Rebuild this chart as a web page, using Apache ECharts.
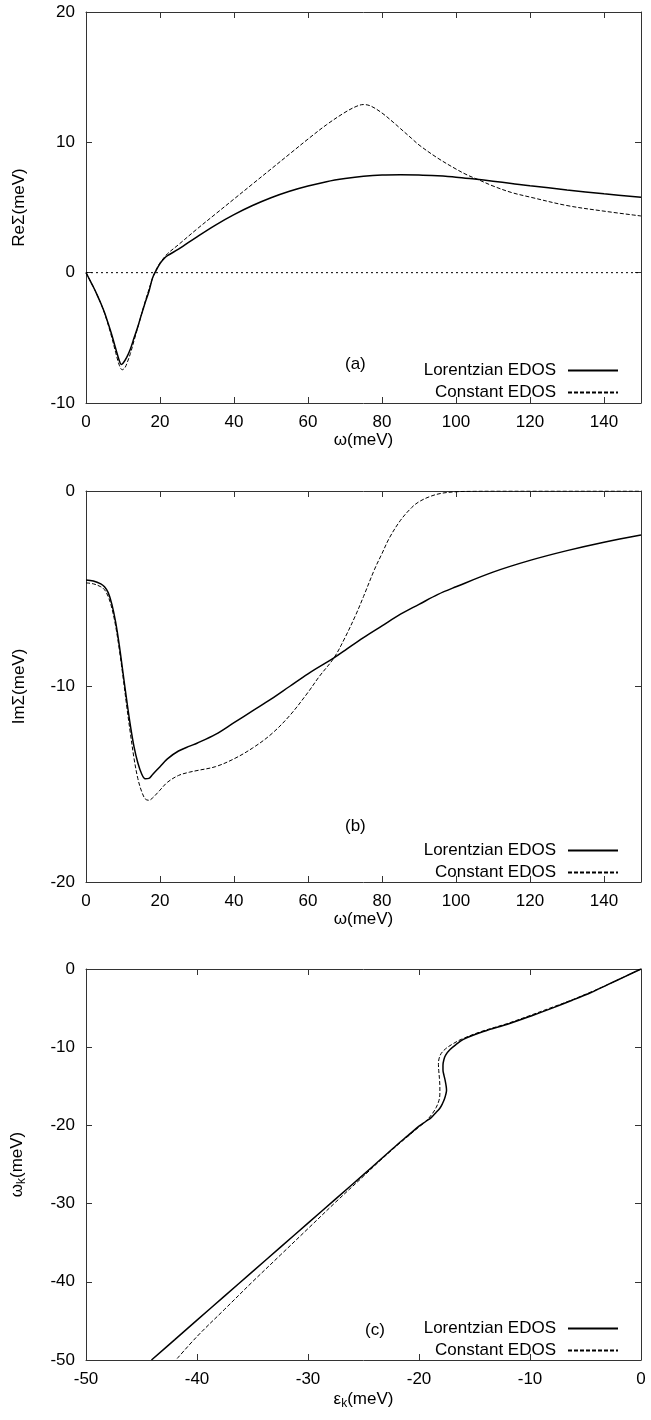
<!DOCTYPE html>
<html><head><meta charset="utf-8">
<script src="https://cdn.jsdelivr.net/npm/echarts@6/dist/echarts.min.js"></script>
<style>html,body{margin:0;padding:0;background:#fff}#c{width:651px;height:1420px}</style>
</head><body><div id="c"></div>
<script>
// ---- Panel (a): Re Sigma ----
const omegaReLor = [0,1,2,3,4,5,6,7,8,9,9.5,10,11,12,13,14,15,16,17,18,19,20,21,22,25,30,35,40,45,50,55,60,65,70,75,80,85,90,95,100,105,110,115,120,130,140,150];
const reLor = [0,-0.55,-1.1,-1.7,-2.35,-3.05,-3.9,-4.8,-5.8,-6.75,-7.04,-6.95,-6.5,-5.85,-5.0,-4.15,-3.2,-2.3,-1.45,-0.4,0.2,0.7,1.05,1.3,1.8,2.75,3.65,4.45,5.15,5.75,6.25,6.65,6.98,7.22,7.4,7.5,7.52,7.5,7.43,7.33,7.18,7.02,6.85,6.67,6.35,6.05,5.78];
const omegaReConst = [0,1,2,3,4,5,6,7,8,9,9.8,10.5,11,12,13,14,15,16,17,18,19,20,21,22,25,30,35,40,45,50,55,60,65,70,73,75,77,80,83,85,88,90,95,100,103,106,110,115,120,130,140,150];
const reConst = [0,-0.55,-1.1,-1.7,-2.35,-3.1,-4.0,-5.0,-6.1,-7.1,-7.45,-7.3,-7.0,-6.2,-5.2,-4.2,-3.2,-2.2,-1.3,-0.4,0.25,0.75,1.12,1.45,2.15,3.35,4.5,5.65,6.8,7.95,9.1,10.25,11.35,12.3,12.75,12.9,12.78,12.25,11.55,11.05,10.3,9.8,8.8,7.95,7.5,7.14,6.65,6.15,5.8,5.15,4.72,4.35];
const zeroLineX = [0,150];
const zeroLineY = [0,0];

// ---- Panel (b): Im Sigma ----
const omegaImLor = [0,2,4,5,6,7,8,9,10,11,12,13,14,15,16,17,18,20,22,25,28,30,35,40,45,50,55,60,67,70,75,80,85,90,95,100,110,120,130,140,150];
const imLor = [-4.55,-4.6,-4.75,-4.9,-5.2,-5.8,-6.7,-7.9,-9.3,-10.7,-12.0,-13.1,-13.9,-14.45,-14.72,-14.7,-14.5,-14.1,-13.7,-13.3,-13.05,-12.9,-12.45,-11.85,-11.25,-10.65,-10.0,-9.35,-8.54,-8.15,-7.5,-6.9,-6.3,-5.8,-5.3,-4.9,-4.15,-3.55,-3.05,-2.62,-2.25];
const omegaImConst = [0,2,4,5,6,7,8,9,10,11,12,13,14,15,16,17,18,20,22,25,28,30,35,40,45,50,55,60,63,67,70,73,75,78,80,82,85,88,90,93,96,100,105,110,150];
const imConst = [-4.7,-4.75,-4.9,-5.05,-5.4,-6.0,-6.9,-8.1,-9.5,-11.0,-12.4,-13.7,-14.7,-15.35,-15.75,-15.82,-15.7,-15.3,-14.9,-14.55,-14.38,-14.3,-14.1,-13.7,-13.15,-12.45,-11.5,-10.3,-9.5,-8.54,-7.5,-6.3,-5.4,-4.0,-3.2,-2.4,-1.5,-0.85,-0.55,-0.28,-0.12,-0.04,-0.01,0,0];

// ---- Panel (c): dispersion ----
const epsLor = [0,-1.5,-3.0,-4.5,-6.2,-8.0,-9.9,-11.9,-14.2,-16.0,-16.7,-17.2,-17.6,-17.76,-17.84,-17.84,-17.75,-17.65,-17.55,-17.52,-17.58,-17.7,-17.88,-18.12,-18.5,-18.9,-19.4,-20.0,-21.0,-22.0,-23.5,-25.0,-27.5,-30.0,-32.5,-35.0,-37.5,-40.0,-42.0,-44.1];
const omegaKLor = [0,-1,-2,-3,-4,-5,-6,-7,-8,-9,-9.7,-10.3,-11.0,-11.6,-12.3,-12.9,-13.6,-14.2,-15.0,-15.5,-16.0,-16.6,-17.2,-17.8,-18.4,-19.0,-19.5,-20.1,-21.3,-22.5,-24.4,-26.3,-29.4,-32.5,-35.6,-38.7,-41.8,-44.9,-47.4,-50];
const epsConst = [0,-1.5,-3.0,-4.6,-6.3,-8.2,-10.1,-12.1,-14.4,-16.2,-17.1,-17.6,-18.0,-18.2,-18.25,-18.22,-18.16,-18.12,-18.12,-18.2,-18.45,-18.85,-19.4,-20.0,-21.0,-22.0,-23.5,-25.0,-27.5,-30.0,-32.5,-35.0,-37.5,-40.0,-41.9];
const omegaKConst = [0,-1,-2,-3,-4,-5,-6,-7,-8,-9,-9.7,-10.2,-10.8,-11.5,-12.2,-13.0,-14.0,-15.0,-16.0,-16.8,-17.7,-18.6,-19.5,-20.2,-21.4,-22.6,-24.5,-26.5,-29.8,-33.2,-36.6,-40.0,-43.5,-47.0,-50];

const legendNames = ['Lorentzian EDOS','Constant EDOS'];
const panelLabels = ['(a)','(b)','(c)'];
const xTitles = ['ω(meV)','ω(meV)','{a|ε}{s|k}{a|(meV)}'];
const yTitles = ['ReΣ(meV)','ImΣ(meV)','{a|ω}{s|k}{a|(meV)}'];

const FONT = '"Liberation Sans", Arial, Helvetica, sans-serif';
const FRAME = '#333';
const zip = (xs, ys) => xs.map((x, i) => [x, ys[i]]);

const gridTops = [12, 491, 969];
const gridH = 391;
const axisRanges = [
  {x:[0,150,20], y:[-10,20,10]},
  {x:[0,150,20], y:[-20,0,10]},
  {x:[-50,0,10], y:[-50,0,10]}
];

const rich = {
  a: {fontSize:17, fontFamily:FONT, color:'#000'},
  s: {fontSize:12, fontFamily:FONT, color:'#000', padding:[10,0,0,0]}
};

const grid = [], xAxis = [], yAxis = [];
gridTops.forEach((t, gi) => {
  grid.push({left:86, top:t, width:555, height:gridH, containLabel:false, outerBoundsMode:'none'});
  const r = axisRanges[gi];
  const common = (min, max, iv) => ({
    type:'value', gridIndex:gi, min, max, interval:iv,
    axisLine:{show:true, onZero:false, lineStyle:{color:FRAME, width:1}},
    axisTick:{show:true, inside:true, length:6, lineStyle:{color:FRAME, width:1}},
    splitLine:{show:false}
  });
  xAxis.push(Object.assign(common(r.x[0], r.x[1], r.x[2]), {
    position:'bottom',
    axisLabel:{color:'#000', fontSize:17, fontFamily:FONT, margin:11, showMaxLabel: gi === 2},
    name:xTitles[gi], nameLocation:'middle', nameGap:28,
    nameTextStyle:{color:'#000', fontSize:17, fontFamily:FONT, rich}
  }));
  xAxis.push(Object.assign(common(r.x[0], r.x[1], r.x[2]), {
    position:'top', axisLabel:{show:false}
  }));
  yAxis.push(Object.assign(common(r.y[0], r.y[1], r.y[2]), {
    position:'left',
    axisLabel:{color:'#000', fontSize:17, fontFamily:FONT, margin:11},
    name:yTitles[gi], nameLocation:'middle', nameGap:58, nameRotate:90,
    nameTextStyle:{color:'#000', fontSize:17, fontFamily:FONT, rich}
  }));
  yAxis.push(Object.assign(common(r.y[0], r.y[1], r.y[2]), {
    position:'right', axisLabel:{show:false}
  }));
});

const solid = {color:'#000', width:1.5, type:'solid'};
const dashed = {color:'#000', width:1, type:[4,2]};
const mk = (name, gi, data, ls, extra) => Object.assign({
  type:'line', name, xAxisIndex:2*gi, yAxisIndex:2*gi, data,
  showSymbol:false, symbol:'none', smooth:0.35, lineStyle:ls, itemStyle:{color:'#000'},
  silent:true, clip:true
}, extra || {});

const series = [
  mk('zero', 0, zip(zeroLineX, zeroLineY), {color:'#000', width:1, type:[2,3]}, {smooth:false}),
  mk(legendNames[0], 0, zip(omegaReLor, reLor), solid),
  mk(legendNames[1], 0, zip(omegaReConst, reConst), dashed),
  mk(legendNames[0], 1, zip(omegaImLor, imLor), solid),
  mk(legendNames[1], 1, zip(omegaImConst, imConst), dashed),
  mk(legendNames[0], 2, zip(epsLor, omegaKLor), solid),
  mk(legendNames[1], 2, zip(epsConst, omegaKConst), dashed)
];

const legendTops = [362, 842, 1320];
const legend = legendTops.map(t => ({
  data: legendNames, orient:'vertical', right:32, top:t, padding:0,
  align:'right', itemWidth:50, itemHeight:12, itemGap:5, selectedMode:false,
  itemStyle:{opacity:0},
  textStyle:{color:'#000', fontSize:17, fontFamily:FONT, lineHeight:14, padding:[0,7,0,0]}
}));

const labelPos = [[345,356],[345,818],[365,1322]];
const title = panelLabels.map((s, i) => ({
  text:s, left:labelPos[i][0], top:labelPos[i][1], padding:0,
  textStyle:{color:'#000', fontSize:17, fontFamily:FONT, fontWeight:'normal'}
}));

const chart = echarts.init(document.getElementById('c'), null, {renderer:'canvas'});
chart.setOption({
  animation:false, backgroundColor:'#fff',
  title, legend, grid, xAxis, yAxis, series
});
</script></body></html>
